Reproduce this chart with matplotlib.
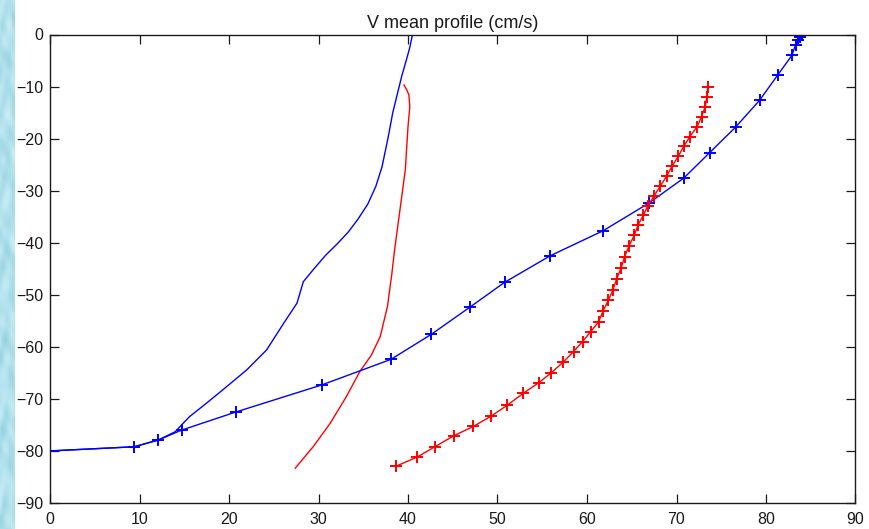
import numpy as np
import matplotlib
matplotlib.use("Agg")
import matplotlib.pyplot as plt

plt.rcParams['font.family'] = ['Liberation Sans', 'DejaVu Sans']

# Current speed profiles: depth (m) vs V (cm/s)
blue_marked_v = [84.0, 83.8, 83.6, 83.3, 82.9, 81.3, 79.3, 76.6, 73.7, 70.8,
                 66.9, 61.8, 55.9, 50.8, 46.9, 42.6, 38.1, 30.4, 20.8, 14.7,
                 12.1, 9.4, 0.0]
blue_marked_z = [0.0, -0.5, -1.0, -2.0, -4.0, -7.8, -12.6, -17.8, -22.7, -27.6,
                 -32.4, -37.7, -42.5, -47.6, -52.4, -57.6, -62.4, -67.3, -72.5, -76.0,
                 -77.9, -79.2, -80.0]

blue_plain_v = [40.5, 40.2, 39.8, 39.3, 38.8, 38.3, 37.8, 37.1, 36.4, 35.5,
                34.4, 33.3, 32.1, 30.8, 29.4, 28.3, 27.6, 26.1, 24.2, 22.0,
                19.7, 17.5, 15.6, 14.7, 14.0, 12.1, 9.4, 0.0]
blue_plain_z = [0.0, -2.5, -5.0, -8.0, -11.5, -15.0, -19.6, -25.4, -29.2, -32.6,
                -35.5, -38.0, -40.2, -42.4, -45.2, -47.5, -51.6, -55.5, -60.6, -64.4,
                -67.7, -70.8, -73.4, -75.0, -76.3, -77.9, -79.2, -80.0]

red_marked_v = [73.5, 73.4, 73.2, 72.8, 72.3, 71.5, 70.8, 70.2, 69.5, 68.9,
                68.2, 67.5, 66.8, 66.3, 65.7, 65.3, 64.7, 64.2, 63.8, 63.3,
                62.9, 62.4, 61.8, 61.3, 60.4, 59.5, 58.5, 57.3, 56.0, 54.6,
                52.9, 51.1, 49.3, 47.3, 45.1, 43.0, 41.0, 38.7]
red_marked_z = [-10.0, -12.0, -13.9, -15.8, -17.7, -19.6, -21.5, -23.4, -25.3, -27.2,
                -29.1, -31.0, -32.9, -34.7, -36.6, -38.5, -40.6, -42.7, -44.9, -47.0,
                -49.1, -51.0, -53.1, -55.2, -57.1, -59.0, -60.9, -63.0, -65.0, -66.9,
                -68.9, -71.2, -73.3, -75.3, -77.1, -79.2, -81.2, -82.9]

red_plain_v = [39.55, 39.85, 40.1, 40.2, 40.0, 39.7, 39.1, 38.5, 38.2, 37.7,
               36.9, 35.9, 34.6, 33.1, 31.3, 29.4, 27.4]
red_plain_z = [-9.7, -10.6, -11.6, -13.9, -17.7, -26.0, -33.7, -41.4, -45.9, -52.3,
               -58.0, -61.6, -64.8, -69.6, -74.7, -79.2, -83.3]

x_ticks = list(range(0, 91, 10))
y_ticks = list(range(-90, 1, 10))
title_text = "V mean profile (cm/s)"

W, H = 870, 529
fig = plt.figure(figsize=(W / 100, H / 100), dpi=100)
fig.patch.set_facecolor("white")

# light mottled strip down the left edge
strip = fig.add_axes([0, 0, 15 / W, 1], zorder=-5)
yy, xx = np.mgrid[0:H, 0:15].astype(float)
tex = (0.55
       + 0.22 * np.sin(yy / 9.0 + 1.7 * np.sin(xx / 4.0)) * np.cos(yy / 23.0 + xx / 6.0)
       + 0.12 * np.sin(yy / 4.3 - xx / 2.5) * np.sin(yy / 31.0)
       + 0.10 * np.cos(yy / 13.0 + xx / 1.9))
c_light = np.array([0.80, 0.94, 0.97])
c_dark = np.array([0.56, 0.81, 0.87])
rgb = c_dark + (c_light - c_dark) * np.clip(tex, 0, 1)[..., None]
strip.imshow(rgb, aspect="auto", interpolation="bilinear")
strip.set_axis_off()

ax = fig.add_axes([50 / W, 1 - 503 / H, 805.5 / W, 468.5 / H])
ax.set_facecolor("white")

ax.plot(blue_plain_v, blue_plain_z, color=(0, 0, 1), lw=1.0)
ax.plot(red_plain_v, red_plain_z, color=(1, 0, 0), lw=1.0)
ax.plot(blue_marked_v, blue_marked_z, color=(0, 0, 1), lw=1.0,
        marker="+", markersize=8.5, markeredgewidth=1.4)
ax.plot(red_marked_v, red_marked_z, color=(1, 0, 0), lw=1.0,
        marker="+", markersize=8.5, markeredgewidth=1.4)

ax.set_xlim(0, 90)
ax.set_ylim(-90, 0)
ax.set_xticks(x_ticks)
ax.set_yticks(y_ticks)
ax.tick_params(direction="in", top=True, right=True, length=6.5, width=0.9,
               labelsize=11.5, colors="#1a1a1a")
ax.tick_params(axis="x", pad=6.5)
ax.tick_params(axis="y", pad=4.5)
for s in ax.spines.values():
    s.set_linewidth(1.0)
    s.set_color("#1a1a1a")

ax.set_title(title_text, fontsize=13, pad=5, color="#1a1a1a")

fig.savefig("out.png", dpi=100)
